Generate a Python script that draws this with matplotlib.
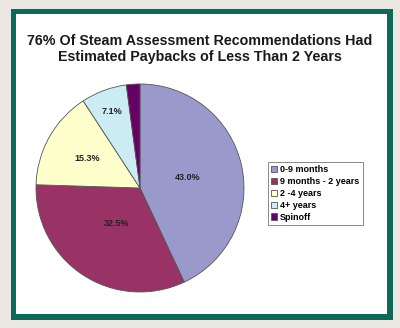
import matplotlib
matplotlib.use("Agg")
import matplotlib.pyplot as plt
from matplotlib.patches import Rectangle
import numpy as np

labels = ['0-9 months', '9 months - 2 years', '2 -4 years', '4+ years', 'Spinoff']
shares = [43.0, 32.5, 15.3, 7.1, 2.1]
pct_text = ['43.0%', '32.5%', '15.3%', '7.1%', '']
colors = ['#9999cc', '#993366', '#ffffcc', '#ccecf4', '#660066']
# radial spot of each percentage label (fraction of radius)
label_r = [0.47, 0.41, 0.58, 0.78, 0.0]

title = ('76% Of Steam Assessment Recommendations Had\n'
         'Estimated Paybacks of Less Than 2 Years')

plt.rcParams['font.family'] = ['Liberation Sans', 'DejaVu Sans']

W, H = 400, 328
fig = plt.figure(figsize=(W / 100, H / 100), dpi=100, facecolor='#ebe8e3')

# green frame with white panel inside
fig.patches.append(Rectangle((11 / W, 1 - 320 / H), 382 / W, 311 / H,
                             transform=fig.transFigure, facecolor='#0c6b58',
                             edgecolor='none', zorder=-2))
fig.patches.append(Rectangle((16 / W, 1 - 314 / H), 371 / W, 300 / H,
                             transform=fig.transFigure, facecolor='white',
                             edgecolor='none', zorder=-1))

fig.text(200 / W, 1 - 49 / H, title, ha='center', va='center',
         fontsize=10.3, fontweight='bold', linespacing=1.2, color='#1a1a1a')

cx, cy, r = 140, 188, 104
ax = fig.add_axes([(cx - r) / W, (H - cy - r) / H, 2 * r / W, 2 * r / H])
ax.set_zorder(1)
wedges, _ = ax.pie(shares, colors=colors, startangle=90, counterclock=False,
                   wedgeprops=dict(edgecolor='#555555', linewidth=0.6))
for w, t, lr in zip(wedges, pct_text, label_r):
    if not t:
        continue
    ang = np.deg2rad((w.theta1 + w.theta2) / 2)
    ax.text(lr * np.cos(ang), lr * np.sin(ang), t, ha='center', va='center',
            fontsize=6.5, fontweight='bold', color='#222222')
ax.set_xlim(-1, 1)
ax.set_ylim(-1, 1)
ax.axis('off')

leg = fig.legend(wedges, labels, loc='upper left',
                 bbox_to_anchor=(268 / W, 1 - 162 / H),
                 prop={'weight': 'bold', 'size': 6.5}, frameon=True,
                 fancybox=False, handlelength=0.7, handleheight=0.7,
                 handletextpad=0.3, labelspacing=0.32, borderpad=0.35,
                 borderaxespad=0)
leg.set_zorder(2)
leg.get_frame().set_edgecolor('#555555')
leg.get_frame().set_linewidth(0.6)

fig.savefig('out.png', dpi=100, facecolor=fig.get_facecolor())
